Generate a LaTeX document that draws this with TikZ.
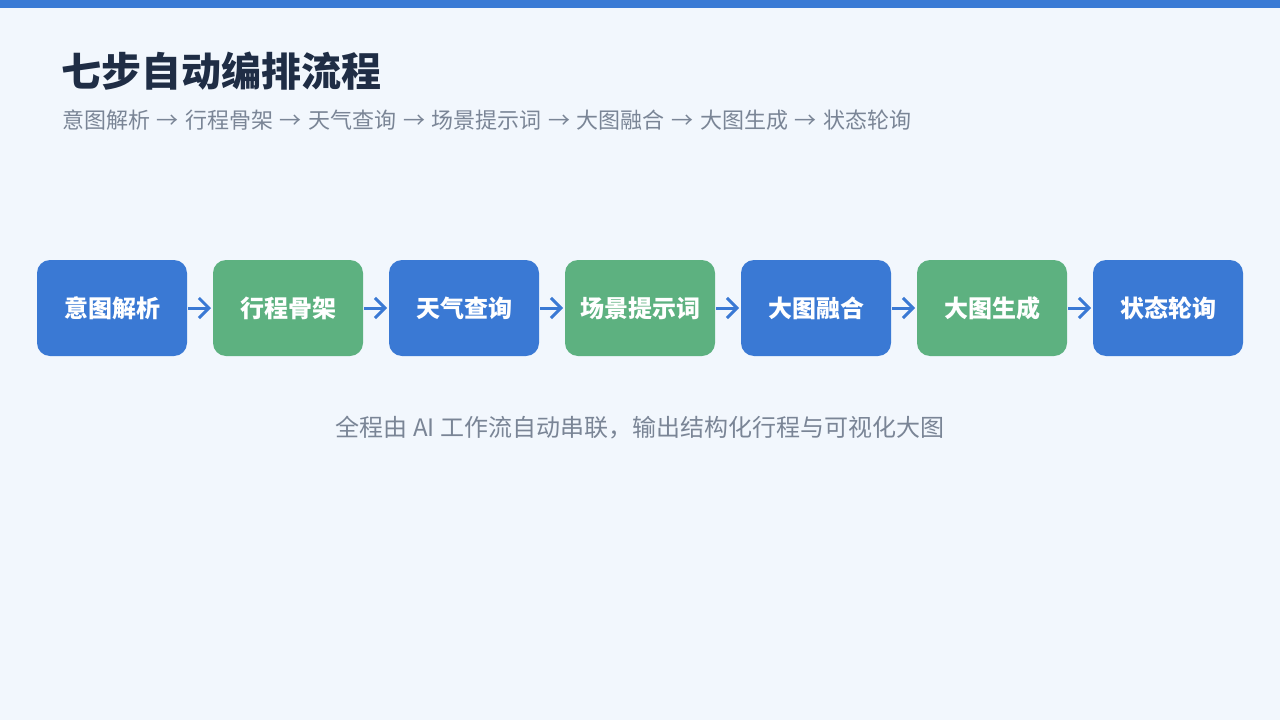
\documentclass[tikz,border=0pt]{standalone}
\usepackage{fontspec}
\setmainfont{Noto Sans CJK SC}
\usetikzlibrary{positioning,arrows.meta}

\definecolor{pagebg}{HTML}{F2F7FD}
\definecolor{barblue}{HTML}{3A7BD5}
\definecolor{stepblue}{HTML}{3A79D4}
\definecolor{stepgreen}{HTML}{5DB180}
\definecolor{titleink}{HTML}{1F2D45}
\definecolor{noteink}{HTML}{7A8596}
\newcommand\thento{\hspace{0.3em}→\hspace{0.3em}}

\begin{document}
\begin{tikzpicture}[x=1pt,y=-1pt,
			step box/.style={rectangle,rounded corners=13pt,minimum width=150pt,minimum height=96pt,
				inner sep=0pt,outer sep=0pt,text=white,font=\fontsize{24}{28}\selectfont\bfseries},
			blue step/.style={step box,fill=stepblue},
			green step/.style={step box,fill=stepgreen},
			link/.style={-{Straight Barb[length=10pt,width=20pt]},draw=stepblue,line width=3pt,shorten <=1pt,shorten >=2pt},
			node distance=26pt]
			\useasboundingbox[fill=pagebg] (0,0) rectangle (1280,720);
			\fill[barblue] (0,0) rectangle (1280,8);
			% heading
			\node[anchor=west,inner sep=0pt,text=titleink,font=\fontsize{40}{44}\selectfont\bfseries] (title) at (61,71) {七步自动编排流程};
			\node[anchor=west,inner sep=0pt,text=noteink,font=\fontsize{22}{26}\selectfont] (subtitle) at (62,120)
				{意图解析\thento 行程骨架\thento 天气查询\thento 场景提示词\thento 大图融合\thento 大图生成\thento 状态轮询};
			% steps
			\node[blue step] (s_1) at (112,308) {意图解析};
			\node[green step] (s_2) [right=of s_1] {行程骨架};
			\node[blue step] (s_3) [right=of s_2] {天气查询};
			\node[green step] (s_4) [right=of s_3] {场景提示词};
			\node[blue step] (s_5) [right=of s_4] {大图融合};
			\node[green step] (s_6) [right=of s_5] {大图生成};
			\node[blue step] (s_7) [right=of s_6] {状态轮询};
			\foreach \a/\b in {1/2,2/3,3/4,4/5,5/6,6/7}
				\draw[link] (s_\a) -- (s_\b);
			% footer note
			\node[text=noteink,font=\fontsize{24}{28}\selectfont] (note) at (640,428)
				{全程由 AI 工作流自动串联，输出结构化行程与可视化大图};
		\end{tikzpicture}
\end{document}
